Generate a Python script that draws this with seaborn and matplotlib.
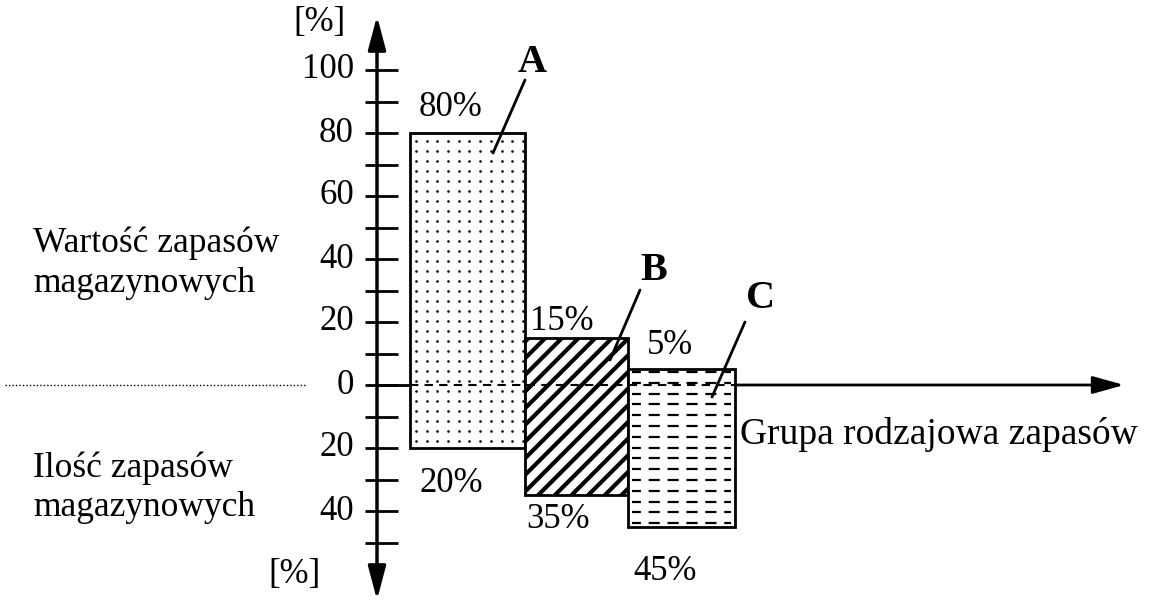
import numpy as np
import pandas as pd
import matplotlib
matplotlib.use("Agg")
import matplotlib.pyplot as plt
import seaborn as sns

# ABC analysis: share of stock value (up) and stock quantity (down) per group
groups = ["A", "B", "C"]
value_share = [80, 15, 5]        # wartość zapasów [%]
quantity_share = [20, 35, 45]    # ilość zapasów [%]
pos_ticks = [0, 20, 40, 60, 80, 100]
neg_ticks = [20, 40]

df = pd.DataFrame({"grupa": groups, "wartosc": value_share, "ilosc": quantity_share})

sns.set_theme(style="white")
plt.rcParams["font.family"] = ["Liberation Serif", "DejaVu Serif"]
plt.rcParams["hatch.color"] = "black"
plt.rcParams["text.color"] = "black"

W, H = 1158, 601
fig = plt.figure(figsize=(W / 100, H / 100), dpi=100)
ax = fig.add_axes([0, 0, 1, 1])
ax.set_axis_off()

# layout: x in pixel-like units, y in percent
zero_px = 385.0
px_per_pct = 3.15
ax.set_xlim(0, W)
ax.set_ylim(-(H - zero_px) / px_per_pct, zero_px / px_per_pct)

def ypx(p):
    return (zero_px - p) / px_per_pct

axis_x = 377
bar_left = [410, 525, 628]
bar_width = [115, 103, 107]
hatches = ["", "//", ""]

FS = 25
rects = []
for i, row in df.iterrows():
    r = ax.bar(bar_left[i], row["wartosc"] + row["ilosc"], bottom=-row["ilosc"],
               width=bar_width[i], align="edge", facecolor="white",
               edgecolor="black", linewidth=2.0, hatch=hatches[i], zorder=3)[0]
    rects.append(r)
try:
    rects[1].set_hatch_linewidth(3.0)
except AttributeError:
    plt.rcParams["hatch.linewidth"] = 3.0

# dotted fill for group A
ra = rects[0]
gx = np.arange(ra.get_x() + 6, ra.get_x() + ra.get_width(), 10.7)
gy = np.arange(ra.get_y() + ra.get_height() - 8 / px_per_pct, ra.get_y(), -10.0 / px_per_pct)
GX, GY = np.meshgrid(gx, gy)
dots = ax.scatter(GX.ravel(), GY.ravel(), s=3.5, color="black", linewidths=0, zorder=4)
dots.set_clip_path(ra)

# dashed horizontal fill for group C
rc = rects[2]
x0c = rc.get_x()
x1c = x0c + rc.get_width()
ys = np.arange(rc.get_y() + 3.5 / px_per_pct, rc.get_y() + rc.get_height(), 10.8 / px_per_pct)
for yy in ys:
    ln, = ax.plot([x0c + 4, x1c - 4], [yy, yy], color="black", lw=1.6,
                  linestyle=(1, (5, 3.5)), zorder=4)
    ln.set_clip_path(rc)

# zero line: dashed inside the bars, solid outside
ax.plot([axis_x, bar_left[0]], [0, 0], color="black", lw=2, zorder=5)
ax.plot([bar_left[0], bar_left[-1] + bar_width[-1]], [0, 0], color="black",
        lw=1.5, linestyle=(0, (4, 3)), zorder=5)
ax.annotate("", xy=(1124, 0), xytext=(bar_left[-1] + bar_width[-1], 0),
            arrowprops=dict(arrowstyle="-|>,head_length=1.6,head_width=0.45",
                            color="black", lw=2, shrinkA=0, shrinkB=0), zorder=5)
ax.plot([5, 305], [0, 0], color="black", lw=1.0, linestyle=(0, (1, 1.5)))

# vertical axis with arrows at both ends
ax.annotate("", xy=(axis_x, ypx(16)), xytext=(axis_x, 0),
            arrowprops=dict(arrowstyle="-|>,head_length=1.7,head_width=0.45",
                            color="black", lw=2.5, shrinkA=0, shrinkB=0), zorder=6)
ax.annotate("", xy=(axis_x, ypx(600)), xytext=(axis_x, 0),
            arrowprops=dict(arrowstyle="-|>,head_length=1.7,head_width=0.45",
                            color="black", lw=2.5, shrinkA=0, shrinkB=0), zorder=6)

for t in range(-50, 101, 10):
    ax.plot([365, 398], [t, t], color="black", lw=2.0, zorder=6, solid_capstyle="butt")
for t in pos_ticks:
    ax.text(354, t, str(t), ha="right", va="center", fontsize=FS)
for t in neg_ticks:
    ax.text(354, -t, str(t), ha="right", va="center", fontsize=FS)

ax.text(346, ypx(22), "[%]", ha="right", va="center", fontsize=FS)
ax.text(321, ypx(574), "[%]", ha="right", va="center", fontsize=FS)

LFS = 25.5
ax.text(33, ypx(243), "Wartość zapasów", ha="left", va="center", fontsize=LFS)
ax.text(33, ypx(283), "magazynowych", ha="left", va="center", fontsize=LFS)
ax.text(33, ypx(468), "Ilość zapasów", ha="left", va="center", fontsize=LFS)
ax.text(33, ypx(507), "magazynowych", ha="left", va="center", fontsize=LFS)
ax.text(740, ypx(435), "Grupa rodzajowa zapasów", ha="left", va="center", fontsize=27)

# percentage labels
val_lbl_xy = [(451, ypx(108)), (562, ypx(322)), (670, ypx(345))]
qty_lbl_xy = [(451, ypx(483)), (558, ypx(520)), (665, ypx(572))]
for i in range(3):
    ax.text(*val_lbl_xy[i], f"{value_share[i]}%", ha="center", va="center", fontsize=FS)
    ax.text(*qty_lbl_xy[i], f"{quantity_share[i]}%", ha="center", va="center", fontsize=FS)

# group letters with leader lines
letter_xy = [(532, ypx(62)), (654, ypx(270)), (761, ypx(298))]
leader = [((525, 80), (493, 153)), ((640, 290), (610, 360)), ((745, 322), (712, 397))]
for i, g in enumerate(groups):
    ax.text(*letter_xy[i], g, ha="center", va="center", fontsize=29, fontweight="bold")
    (xa, ya), (xb, yb) = leader[i]
    ax.plot([xa, xb], [ypx(ya), ypx(yb)], color="black", lw=2.0, zorder=7)

fig.savefig("out.png", dpi=100, facecolor="white")
